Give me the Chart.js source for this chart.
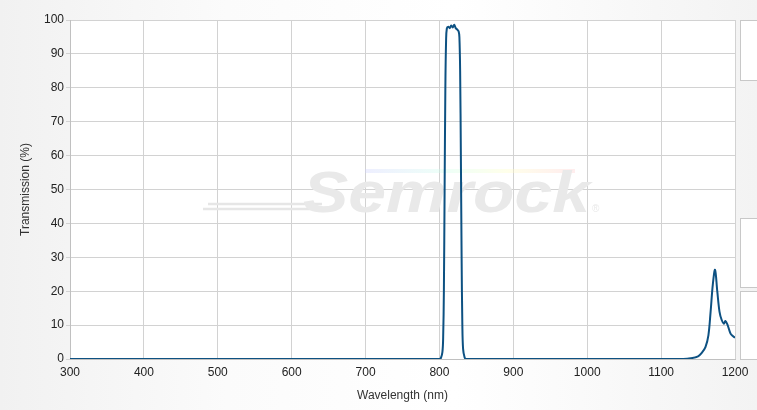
<!DOCTYPE html>
<html>
<head>
<meta charset="utf-8">
<script src="https://cdn.jsdelivr.net/npm/chart.js@4"></script>
<style>
  html,body{margin:0;padding:0;}
  body{width:757px;height:410px;overflow:hidden;background:linear-gradient(90deg,#f1f1f1 0%,#fbfbfb 30%,#ffffff 60%,#f3f3f3 100%);position:relative;font-family:"Liberation Sans",Arial,sans-serif;}
  #wrap{position:absolute;left:0;top:0;width:757px;height:410px;}
  .panel{position:absolute;left:740px;width:30px;background:#fff;border:1px solid #c8c8c8;}
</style>
</head>
<body>
<div class="panel" style="top:20px;height:59px;"></div>
<div class="panel" style="top:218px;height:68px;"></div>
<div class="panel" style="top:291px;height:67px;"></div>
<div id="wrap"><canvas id="c" width="757" height="410"></canvas></div>
<script>
// transmission spectrum
const wavelength = [300, 400, 500, 600, 700, 800, 802, 804, 805, 806, 807, 808, 809, 810, 812, 814, 816, 818, 820, 822, 824, 826, 827, 828, 829, 830, 831, 832, 834, 836, 900, 1000, 1100, 1130, 1140, 1150, 1155, 1160, 1164, 1167, 1170, 1173, 1176, 1179, 1182, 1185, 1187, 1190, 1194, 1197, 1200];
const transmission = [0, 0, 0, 0, 0, 0, 0.3, 2, 6, 20, 50, 80, 94, 97.5, 98, 97.6, 98.4, 97.8, 98.6, 97.6, 97.2, 96.6, 95, 85, 60, 30, 10, 3, 0.5, 0, 0, 0, 0, 0, 0.2, 0.8, 1.8, 3.5, 7, 14, 22, 26.3, 20, 14, 11.5, 10.4, 11.2, 10, 7.5, 6.8, 6.3];
const xTicks = [300, 400, 500, 600, 700, 800, 900, 1000, 1100, 1200];

const points = wavelength.map((w,i)=>({x:w, y:transmission[i]}));
const FONT = '"Liberation Sans", Arial, sans-serif';

// white plot area + faint watermark behind the curve
const plotBg = {
  id:'plotBg',
  beforeDraw(chart){
    const {ctx, chartArea:a} = chart;
    ctx.save();
    ctx.fillStyle = '#fff';
    ctx.fillRect(a.left, a.top, a.right-a.left, a.bottom-a.top);
    ctx.restore();
  },
  beforeDatasetsDraw(chart){
    const ctx = chart.ctx;
    ctx.save();
    // rainbow swoosh
    const g = ctx.createLinearGradient(360,0,570,0);
    g.addColorStop(0,'rgba(205,205,255,0.35)');
    g.addColorStop(0.4,'rgba(205,255,235,0.35)');
    g.addColorStop(0.7,'rgba(255,255,195,0.35)');
    g.addColorStop(1,'rgba(255,205,205,0.35)');
    ctx.fillStyle = g;
    ctx.fillRect(365,169,210,4);
    ctx.strokeStyle = '#e6e6e6';
    ctx.lineWidth = 2.5;
    ctx.beginPath(); ctx.moveTo(203,209); ctx.lineTo(320,209); ctx.stroke();
    ctx.beginPath(); ctx.moveTo(208,204); ctx.lineTo(322,204); ctx.stroke();
    ctx.font = 'italic bold 58px ' + FONT;
    ctx.fillStyle = '#e9e9e9';
    ctx.textBaseline = 'alphabetic';
    const w = ctx.measureText('Semrock').width;
    ctx.translate(303, 212);
    ctx.scale(287 / w, 1);
    ctx.fillText('Semrock', 0, 0);
    ctx.setTransform(1,0,0,1,0,0);
    ctx.font = '10px ' + FONT;
    ctx.fillText('®', 592, 212);
    ctx.restore();
  }
};

new Chart(document.getElementById('c').getContext('2d'), {
  type:'line',
  data:{ datasets:[{ data:points, borderColor:'#0d5182', borderWidth:2, pointRadius:0, tension:0.35, fill:false }] },
  options:{
    responsive:false, animation:false,
    layout:{ padding:{ left:14, right:22, top:20, bottom:0 } },
    plugins:{ legend:{display:false}, tooltip:{enabled:false} },
    scales:{
      x:{
        type:'linear', min:300, max:1200,
        afterBuildTicks(s){ s.ticks = xTicks.map(v=>({value:v})); },
        afterFit(s){ s.height = 51; },
        grid:{ color:'#d2d2d2', drawTicks:false },
        border:{ color:'#c0c0c0' },
        ticks:{ color:'#222', font:{family:FONT, size:12}, padding:6, maxRotation:0, callback:v=>String(v) },
        title:{ display:true, text:'Wavelength (nm)', color:'#333', font:{family:FONT, size:12}, padding:{top:3, bottom:7} }
      },
      y:{
        min:0, max:100,
        afterFit(s){ s.width = 56; },
        grid:{ color:'#d2d2d2', tickLength:4 },
        border:{ color:'#c0c0c0' },
        ticks:{ stepSize:10, color:'#222', font:{family:FONT, size:12}, padding:2 },
        title:{ display:true, text:'Transmission (%)', color:'#333', font:{family:FONT, size:12}, padding:{bottom:10} }
      }
    }
  },
  plugins:[plotBg]
});
</script>
</body>
</html>
